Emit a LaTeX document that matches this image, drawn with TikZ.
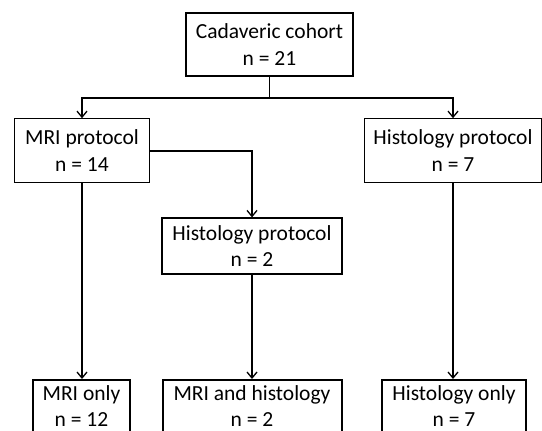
\documentclass[tikz,border=0pt]{standalone}
\usepackage{fontspec}
\setmainfont{Carlito}
\usetikzlibrary{arrows.meta}
\begin{document}
\begin{tikzpicture}[x=1pt,y=-1pt,
  box/.style={draw=black,line width=1.2pt,fill=white,align=center,inner sep=0pt,
    font=\fontsize{21.5}{26.5}\selectfont},
  endbox/.style={box,line width=2pt},
  conn/.style={line width=1.3pt},
  arr/.style={conn,-{Straight Barb[length=6pt,width=10pt,line width=1.3pt]}}]
\useasboundingbox[fill=white] (0,0) rectangle (542,431);
\clip (0,0) rectangle (542,431);
\node[box,minimum width=167pt,minimum height=63pt] (top) at (269.5,44.5) {Cadaveric cohort\\n = 21};
\node[box,minimum width=134.5pt,minimum height=63.5pt] (mri) at (82,150.5) {MRI protocol\\n = 14};
\node[box,minimum width=177pt,minimum height=63.5pt] (histR) at (453,150.5) {Histology protocol\\n = 7};
\node[box,minimum width=180pt,minimum height=56pt] (histM) at (252,246) {Histology protocol\\n = 2};
\node[endbox,minimum width=97pt,minimum height=52pt] (mrionly) at (81.5,406) {MRI only\\n = 12};
\node[endbox,minimum width=179pt,minimum height=52pt] (both) at (252,406) {MRI and histology\\n = 2};
\node[endbox,minimum width=144pt,minimum height=52pt] (histonly) at (454,406) {Histology only\\n = 7};
\coordinate (split) at (269.5,98);
\draw[conn] (top.south) -- (split);
\draw[arr] (split) -| (mri.north);
\draw[arr] (split) -| (histR.north);
\draw[arr] (mri.east |- 0,151) -| (histM.north);
\draw[arr] (mri.south) -- (mri.south |- mrionly.north);
\draw[arr] (histM.south) -- (both.north);
\draw[arr] (histR.south) -- (histR.south |- histonly.north);
\end{tikzpicture}
\end{document}
